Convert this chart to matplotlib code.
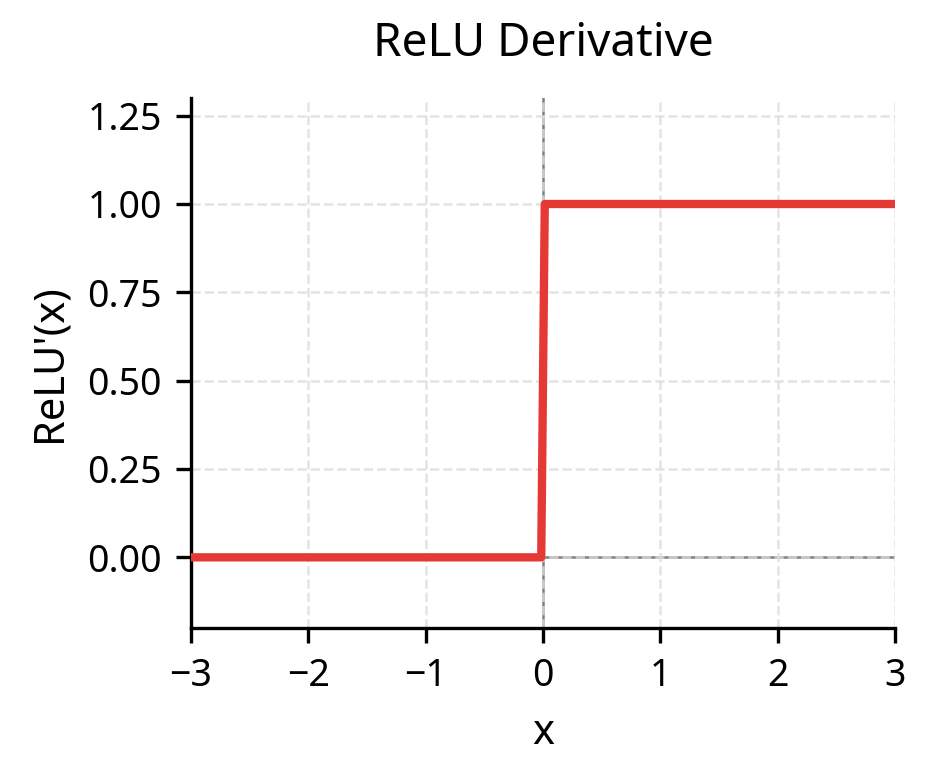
import matplotlib
matplotlib.use("Agg")
import matplotlib.pyplot as plt

x_vals = [-3.0, -0.015, 0.015, 3.0]
y_vals = [0.0, 0.0, 1.0, 1.0]
xticks = [-3, -2, -1, 0, 1, 2, 3]
yticks = [0.0, 0.25, 0.5, 0.75, 1.0, 1.25]

plt.rcParams['font.family'] = ['Noto Sans', 'DejaVu Sans']
fig = plt.figure(figsize=(934/300, 784/300), dpi=300)
ax = fig.add_axes([191/934, 1-628/784, (895-191)/934, (628-98)/784])
ax.axhline(0, color='grey', lw=0.6, zorder=1)
ax.axvline(0, color='grey', lw=0.6, zorder=1)
ax.plot(x_vals, y_vals, color='#e53935', lw=2.0, zorder=3)
ax.set_xlim(-3, 3)
ax.set_ylim(-0.2, 1.3)
ax.set_xticks(xticks)
ax.set_yticks(yticks)
ax.set_yticklabels([f"{v:.2f}" for v in yticks])
ax.set_xticklabels([str(v).replace('-', '\u2212') for v in xticks])
ax.tick_params(labelsize=9, width=0.8, length=3.5)
ax.grid(True, ls='--', color='#dddddd', lw=0.6, alpha=0.8)
ax.spines['top'].set_visible(False)
ax.spines['right'].set_visible(False)
ax.set_xlabel('x', fontsize=10)
ax.set_ylabel("ReLU'(x)", fontsize=10)
ax.set_title('ReLU Derivative', fontsize=11, fontweight='bold', pad=10)
fig.savefig('out.png', dpi=300)
